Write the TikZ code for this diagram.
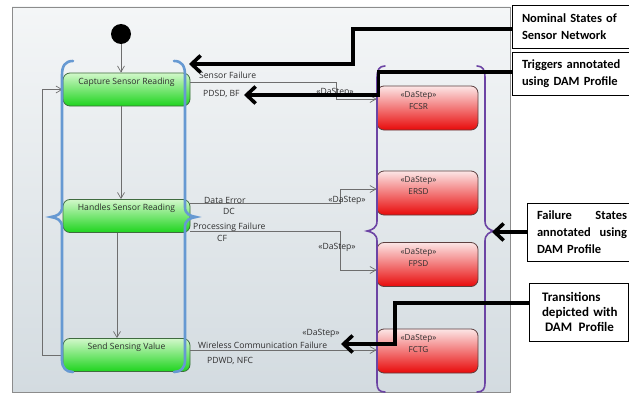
\documentclass[tikz,border=0pt]{standalone}
\usepackage{fontspec}
\setmainfont{Open Sans}
\newfontfamily\callfont{Carlito}
\usetikzlibrary{arrows.meta,calc}
\definecolor{panelTop}{HTML}{F4F6F7}
\definecolor{panelBot}{HTML}{D3DBE0}
\definecolor{panelEdge}{HTML}{8C8C8C}
\definecolor{braceBlue}{HTML}{6699D2}
\definecolor{bracePurple}{HTML}{6C44A4}
\definecolor{greenTop}{HTML}{D2F8CA}
\definecolor{greenBot}{HTML}{1ED41E}
\definecolor{greenEdge}{HTML}{3F6B3F}
\definecolor{redTop}{HTML}{FCE6E6}
\definecolor{redMid}{HTML}{F46A6A}
\definecolor{redBot}{HTML}{E80A0A}
\definecolor{redEdge}{HTML}{5E4040}
\definecolor{transGray}{HTML}{6E6E6E}
\definecolor{txtGray}{HTML}{2E2E2E}
\begin{document}
\begin{tikzpicture}[x=1pt,y=-1pt,
  nominal/.style={draw=greenEdge, line width=0.8pt, rounded corners=7pt,
    top color=greenTop, bottom color=greenBot,
    minimum width=127pt, minimum height=33pt, inner sep=0pt},
  failstate/.style={draw=redEdge, line width=0.8pt, rounded corners=7pt,
    top color=redTop, middle color=redMid, bottom color=redBot,
    minimum width=101pt, minimum height=44pt, inner sep=0pt},
  greentxt/.style={font=\fontsize{8.6}{10}\selectfont, text=txtGray, align=center, inner sep=2pt},
  redtxt/.style={font=\fontsize{8.2}{12}\selectfont, text=txtGray, align=center, inner sep=2pt},
  trlabel/.style={font=\fontsize{8.6}{10}\selectfont, text=txtGray, inner sep=0pt},
  trans/.style={draw=transGray, line width=0.7pt, -{Straight Barb[length=6pt,width=7pt]}},
  bluebrace/.style={draw=braceBlue, line width=2.6pt, line cap=round},
  purplebrace/.style={draw=bracePurple, line width=1.6pt, line cap=round},
  callout/.style={draw=black, line width=0.8pt, fill=white, font=\callfont\bfseries\fontsize{12.5}{16.8}\selectfont, inner sep=0pt},
  pointer/.style={draw=black, line width=3.6pt, -{Straight Barb[length=9pt,width=17pt]}}
]
\useasboundingbox (0,0) rectangle (629,396);
\fill[white] (0,0) rectangle (629,396);
% panel
\shade[top color=panelTop, bottom color=panelBot] (12,7) rectangle (510,392);
\draw[panelEdge, line width=0.9pt] (12,7) rectangle (510,392);
\fill[white] (20,392.5) rectangle (175,396);

% initial state
\node[circle, fill=black, minimum size=20pt, inner sep=0pt] (init) at (121,34) {};

% nominal states
\node[nominal, label={[greentxt, anchor=north, yshift=-3pt]north:Capture Sensor Reading}] (cap) at (126.5,89.5) {};
\node[nominal, label={[greentxt, anchor=north, yshift=-3pt]north:Handles Sensor Reading}] (hand) at (126.5,216) {};
\node[nominal, label={[greentxt, anchor=north, yshift=-3pt]north:Send Sensing Value}] (send) at (126.5,355) {};

% failure states
\node[failstate, label={[redtxt, anchor=north, xshift=-9pt, yshift=-4pt]north:{«DaStep»\\FCSR}}] (fcsr) at (427.5,108) {};
\node[failstate, label={[redtxt, anchor=north, xshift=-9pt, yshift=-4pt]north:{«DaStep»\\ERSD}}] (ersd) at (427.5,193) {};
\node[failstate, label={[redtxt, anchor=north, xshift=-9pt, yshift=-4pt]north:{«DaStep»\\FPSD}}] (fpsd) at (427.5,264.5) {};
\node[failstate, label={[redtxt, anchor=north, xshift=-9pt, yshift=-4pt]north:{«DaStep»\\FCTG}}] (fctg) at (427.5,351) {};

% helper coordinates
\coordinate (v1) at (121,0);
\coordinate (v2) at (117,0);
\coordinate (lp) at (42,0);
\coordinate (s1) at (336,82);
\coordinate (s2) at (336,99);
\coordinate (e1) at (340,203);
\coordinate (e2) at (340,189);
\coordinate (p1) at (340,231);
\coordinate (p2) at (340,270);
\coordinate (w1) at (300,350);

% nominal transitions
\draw[trans] (init) -- (init |- cap.north);
\draw[trans] (cap.south -| v1) -- (hand.north -| v1);
\draw[trans] (hand.south -| v2) -- (send.north -| v2);
\draw[trans] (send.west) -- (send.west -| lp) |- (cap.west);

% failure transitions
\draw[trans] (cap.east |- s1) -- (s1) -- (s2) -- (fcsr.west |- s2);
\draw[trans] (hand.east |- e1) -- (e1) -- (e2) -- (ersd.west |- e2);
\draw[trans] (hand.east |- p1) -- (p1) -- (p2) -- (fpsd.west |- p2);
\draw[trans] (send.east |- w1) -- (fctg.west |- w1);

% transition labels
\node[trlabel, anchor=west] (l1) at (199,75) {Sensor Failure};
\node[trlabel, anchor=west] (l2) at (203,93.5) {PDSD, BF};
\node[trlabel] (l3) at (335,92) {«DaStep»};
\node[trlabel, anchor=west] (l4) at (204,200) {Data Error};
\node[trlabel, anchor=west] (l5) at (223,211) {DC};
\node[trlabel] (l6) at (347,200) {«DaStep»};
\node[trlabel, anchor=west] (l7) at (193,227) {Processing Failure};
\node[trlabel, anchor=west] (l8) at (217,238.5) {CF};
\node[trlabel] (l9) at (337,247) {«DaStep»};
\node[trlabel] (l10) at (321,333) {«DaStep»};
\node[trlabel, anchor=west] (l11) at (198,345) {Wireless Communication Failure};
\node[trlabel, anchor=west] (l12) at (207,361) {PDWD, NFC};

% braces
\draw[bluebrace] (73,61) .. controls (65,61) and (62,66) .. (62,75) -- (62,207)
  .. controls (62,214) and (57,216) .. (51,217) .. controls (57,218) and (62,220) .. (62,227)
  -- (62,360) .. controls (62,368) and (66,372) .. (73,372);
\draw[bluebrace] (174,61) .. controls (182,61) and (185,66) .. (185,75) -- (185,207)
  .. controls (185,214) and (190,216) .. (196,217) .. controls (190,218) and (185,220) .. (185,227)
  -- (185,360) .. controls (185,368) and (181,372) .. (174,372);
\draw[purplebrace] (385,66) .. controls (379,66) and (377,70) .. (377,78) -- (377,221)
  .. controls (377,228) and (372,230) .. (367,231) .. controls (372,232) and (377,234) .. (377,241)
  -- (377,383) .. controls (377,389) and (379,392) .. (385,392);
\draw[purplebrace] (477,66) .. controls (483,66) and (485,70) .. (485,78) -- (485,221)
  .. controls (485,228) and (490,230) .. (494,231) .. controls (490,232) and (485,234) .. (485,241)
  -- (485,383) .. controls (485,389) and (483,392) .. (477,392);

% callouts
\node[callout, minimum width=117pt, minimum height=43pt, text width=97pt, align=left] (nom) at (570.5,26.5) {\mbox{Nominal States of}\\\mbox{Sensor Network}};
\node[callout, minimum width=117pt, minimum height=43pt, text width=97pt, align=left] (trig) at (570.5,73.5) {\mbox{Triggers annotated}\\\mbox{using DAM Profile}};
\node[callout, minimum width=110pt, minimum height=58pt, text width=90pt] (fail) at (582,232) {Failure\hfill States\\annotated\hfill using\\DAM Profile\hfill\null};
\node[callout, font=\callfont\bfseries\fontsize{13}{15}\selectfont, minimum width=99pt, minimum height=58pt, text width=73pt, align=left] (tra) at (578.5,312) {\mbox{Transitions}\\\mbox{depicted with}\\\mbox{\hspace*{3pt}DAM\, Profile}};

% pointer arrows
\coordinate (k1) at (353,29);
\coordinate (t1) at (189,64);
\coordinate (k2) at (378.5,72);
\coordinate (t2) at (244,95);
\coordinate (t3) at (492,232);
\coordinate (k4) at (395,303);
\coordinate (t4) at (341,344);
\draw[pointer] (nom.west |- k1) -- (k1) |- (t1);
\draw[pointer] (trig.west |- k2) -- (k2) |- (t2);
\draw[pointer] (fail.west |- t3) -- (t3);
\draw[pointer] (tra.west |- k4) -- (k4) |- (t4);
\end{tikzpicture}
\end{document}
